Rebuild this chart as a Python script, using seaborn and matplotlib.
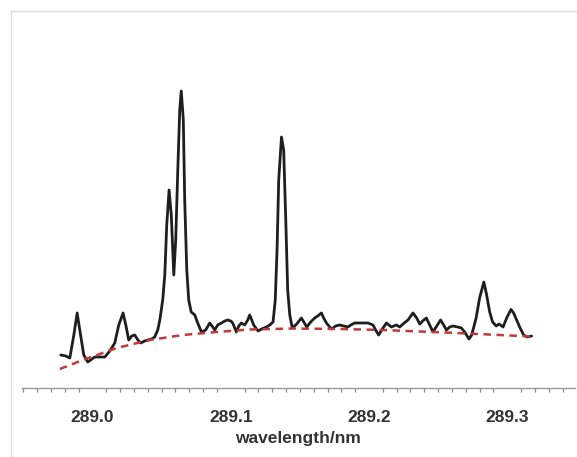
import matplotlib
matplotlib.use('Agg')

import matplotlib.pyplot as plt
from matplotlib.lines import Line2D
from matplotlib.ticker import MultipleLocator
import seaborn as sns
import pandas as pd

# spectrum (wavelength in nm, intensity in a.u.)
wavelength = [
    288.9771, 288.9807, 288.9836, 288.9865, 288.9889, 288.9908, 288.9937, 288.9966,
    289.0017, 289.0053, 289.0089, 289.0125, 289.0161, 289.0190, 289.0221, 289.0241,
    289.0262, 289.0284, 289.0306, 289.0328, 289.0349, 289.0378, 289.0400, 289.0429,
    289.0450, 289.0472, 289.0487, 289.0508, 289.0523, 289.0537, 289.0554, 289.0570,
    289.0588, 289.0602, 289.0617, 289.0631, 289.0642, 289.0657, 289.0667, 289.0682,
    289.0696, 289.0714, 289.0740, 289.0761, 289.0788, 289.0819, 289.0848, 289.0870,
    289.0884, 289.0906, 289.0933, 289.0957, 289.0978, 289.1000, 289.1014, 289.1041,
    289.1058, 289.1077, 289.1101, 289.1123, 289.1137, 289.1152, 289.1166, 289.1197,
    289.1224, 289.1258, 289.1282, 289.1306, 289.1322, 289.1335, 289.1347, 289.1367,
    289.1383, 289.1398, 289.1412, 289.1427, 289.1445, 289.1477, 289.1511, 289.1528,
    289.1550, 289.1578, 289.1607, 289.1629, 289.1656, 289.1672, 289.1692, 289.1728,
    289.1759, 289.1788, 289.1817, 289.1848, 289.1868, 289.1897, 289.1945, 289.1993,
    289.2029, 289.2048, 289.2070, 289.2092, 289.2126, 289.2162, 289.2198, 289.2222,
    289.2246, 289.2282, 289.2318, 289.2345, 289.2367, 289.2388, 289.2415, 289.2439,
    289.2463, 289.2490, 289.2518, 289.2540, 289.2560, 289.2584, 289.2607, 289.2641,
    289.2668, 289.2692, 289.2723, 289.2743, 289.2775, 289.2800, 289.2831, 289.2851,
    289.2873, 289.2894, 289.2920, 289.2941, 289.2970, 289.2996, 289.3027, 289.3046,
    289.3068, 289.3093, 289.3119, 289.3144, 289.3176,
]
intensity = [
    33, 32, 30, 53, 75, 58, 33, 26,
    31, 31, 31, 37, 45, 63, 75, 63,
    48, 52, 53, 48, 45, 47, 48, 49,
    51, 58, 68, 88, 113, 163, 198, 173,
    113, 148, 218, 278, 297, 268, 188, 118,
    88, 76, 73, 65, 56, 58, 65, 61,
    58, 63, 65, 67, 68, 67, 65, 56,
    62, 65, 63, 68, 73, 68, 63, 57,
    59, 61, 63, 66, 88, 138, 208, 251,
    238, 168, 98, 73, 60, 64, 70, 66,
    61, 66, 70, 72, 75, 70, 65, 59,
    62, 63, 62, 61, 63, 65, 65, 65,
    63, 58, 53, 58, 65, 61, 63, 61,
    64, 68, 75, 70, 64, 67, 70, 63,
    56, 62, 68, 63, 58, 61, 62, 61,
    60, 56, 49, 53, 70, 90, 106, 93,
    76, 66, 62, 64, 61, 70, 78.5, 75,
    68, 60, 53, 51, 52,
]

# fitted background (dashed red)
base_wavelength = [288.9764, 288.9930, 289.0176, 289.0414, 289.0653, 289.0899,
                   289.1137, 289.1456, 289.1788, 289.2099, 289.2584, 289.3176]
base_intensity = [19, 28, 40, 48, 53, 56, 58.5, 59.5, 59, 58, 55.3, 51.5]

spec = pd.DataFrame({"wavelength": wavelength, "intensity": intensity})
base = pd.DataFrame({"wavelength": base_wavelength, "intensity": base_intensity})

sns.set_theme(style="white")
plt.rcParams['font.family'] = ['Liberation Sans', 'DejaVu Sans']

fig = plt.figure(figsize=(5.77, 4.57), dpi=100)
ax = fig.add_axes([0.0381, 0.151, 0.9584, 0.7177])

sns.lineplot(data=spec, x="wavelength", y="intensity", estimator=None, sort=False,
             color="#1e1e1e", linewidth=2.0, solid_joinstyle="round",
             solid_capstyle="round", ax=ax)
sns.lineplot(data=base, x="wavelength", y="intensity", estimator=None, sort=False,
             color="#c0393b", linewidth=1.8, linestyle=(0, (3, 2.2)), ax=ax)

ax.set_xlim(288.949, 289.349)
ax.set_ylim(0, 328)

for s in ["top", "right", "left"]:
    ax.spines[s].set_visible(False)
ax.spines["bottom"].set_color("#9a9a9a")
ax.spines["bottom"].set_linewidth(1.0)

ax.set_yticks([])
ax.xaxis.set_major_locator(MultipleLocator(0.1))
ax.xaxis.set_minor_locator(MultipleLocator(0.01))
ax.xaxis.set_major_formatter(matplotlib.ticker.FormatStrFormatter("%.1f"))
ax.tick_params(axis="x", which="major", direction="out", length=6, width=1,
               color="#8a8a8a", pad=10, labelsize=12.5, labelcolor="#333333")
ax.tick_params(axis="x", which="minor", direction="out", length=3, width=0.9,
               color="#8a8a8a", bottom=True)
for lab in ax.get_xticklabels():
    lab.set_fontweight("bold")

ax.set_xlabel("wavelength/nm", fontsize=12.5, fontweight="bold", color="#333333",
              labelpad=4)
ax.set_ylabel("")

# light frame around the figure (left and top edges only are visible)
fig.add_artist(Line2D([11 / 577, 11 / 577], [0, 1 - 11 / 457], color="#dddddd",
                      linewidth=1, transform=fig.transFigure))
fig.add_artist(Line2D([11 / 577, 1], [1 - 11 / 457, 1 - 11 / 457], color="#dddddd",
                      linewidth=1, transform=fig.transFigure))

fig.savefig("out.png", dpi=100)
plt.close(fig)
